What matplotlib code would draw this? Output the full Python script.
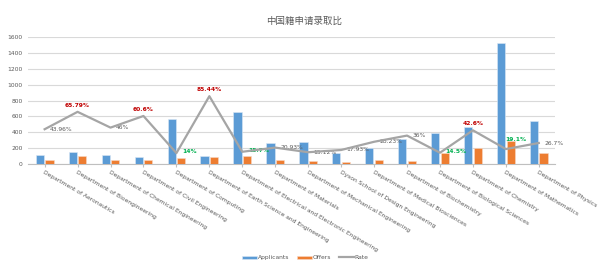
import numpy as np
import matplotlib.pyplot as plt

departments = [
    "Department of Aeronautics",
    "Department of Bioengineering",
    "Department of Chemical Engineering",
    "Department of Civil Engineering",
    "Department of Computing",
    "Department of Earth Science and Engineering",
    "Department of Electrical and Electronic Engineering",
    "Department of Materials",
    "Department of Mechanical Engineering",
    "Dyson School of Design Engineering",
    "Department of Medical Biosciences",
    "Department of Biochemistry",
    "Department of Biological Sciences",
    "Department of Chemistry",
    "Department of Mathematics",
    "Department of Physics",
]
applicants = [116, 152, 113, 94, 565, 103, 650, 272, 285, 145, 202, 323, 396, 468, 1520, 547]
offers = [51, 100, 52, 57, 79, 88, 100, 57, 43, 26, 57, 43, 138, 200, 290, 146]
rate = [43.96, 65.79, 46, 60.6, 14, 85.44, 15.7, 20.93, 15.12, 17.93, 28.23, 36, 14.5, 42.6, 19.1, 26.7]
rate_text = ["43.96%", "65.79%", "46%", "60.6%", "14%", "85.44%", "15.7%", "20.93%",
             "15.12%", "17.93%", "28.23%", "36%", "14.5%", "42.6%", "19.1%", "26.7%"]
high = [1, 3, 5, 13]
low = [4, 6, 12, 14]

BLUE = "#5B9BD5"
ORANGE = "#ED7D31"
GRAY = "#A5A5A5"
TXT = "#595959"


def main():
    fig = plt.figure(figsize=(5.99, 2.72), dpi=100)
    ax = fig.add_axes([0.047, 0.396, 0.88, 0.469])
    x = np.arange(len(departments))
    w = 0.25

    b1 = ax.bar(x - 0.145, applicants, w, color=BLUE, edgecolor="#DCE8F5", linewidth=0.4,
                label="Applicants", zorder=3)
    b2 = ax.bar(x + 0.145, offers, w, color=ORANGE, edgecolor="#F8D9C6", linewidth=0.4,
                label="Offers", zorder=3)

    ax2 = ax.twinx()
    ax2.set_position(ax.get_position())
    l1, = ax2.plot(x, np.array(rate) / 100, color=GRAY, lw=1.6, label="Rate", zorder=4)
    ax2.set_ylim(0, 1.6)
    ax2.axis("off")

    for i, (r, t) in enumerate(zip(rate, rate_text)):
        y = r / 100
        if i in high:
            ax2.annotate(t, (i, y), xytext=(0, 3), textcoords="offset points", ha="center",
                         va="bottom", fontsize=4.3, color="#C00000", fontweight="bold")
        elif i in low:
            if i == 14:
                ax2.annotate(t, (i, y), xytext=(7, 5), textcoords="offset points", ha="center",
                             va="bottom", fontsize=4.3, color="#00B050", fontweight="bold")
            else:
                ax2.annotate(t, (i, y), xytext=(4, 1), textcoords="offset points", ha="left",
                             va="center", fontsize=4.3, color="#00B050", fontweight="bold")
        else:
            ax2.annotate(t, (i, y), xytext=(4, 0), textcoords="offset points", ha="left",
                         va="center", fontsize=4.3, color=TXT)

    ax.set_xlim(-0.5, len(departments) - 0.5)
    ax.set_ylim(0, 1600)
    ax.set_yticks(np.arange(0, 1601, 200))
    ax.yaxis.grid(True, color="#D9D9D9", lw=0.8, zorder=0)
    ax.set_axisbelow(True)
    for s in ["top", "right", "left"]:
        ax.spines[s].set_visible(False)
    ax.spines["bottom"].set_color("#BFBFBF")
    ax.spines["bottom"].set_linewidth(0.8)
    ax.tick_params(axis="y", length=0, labelsize=4.3, labelcolor=TXT, pad=4)
    ax.set_xticks(x)
    ax.set_xticklabels(departments, rotation=-30, ha="left", va="top",
                       rotation_mode="anchor", fontsize=4.3, color=TXT)
    ax.tick_params(axis="x", length=2, color="#BFBFBF", pad=2)

    fig.text(0.507, 0.922, "中国籍申请录取比", ha="center", va="center", fontsize=6.8,
             color=TXT, family=["Noto Sans CJK SC", "DejaVu Sans"])

    fig.legend([b1, b2, l1], ["Applicants", "Offers", "Rate"], loc="center",
               bbox_to_anchor=(0.51, 0.052), ncol=3, frameon=False, fontsize=4.3,
               labelcolor=TXT, handlelength=2.5, handleheight=0.5, columnspacing=1.2,
               handletextpad=0.2)

    fig.savefig("out.png", dpi=100)


if __name__ == "__main__":
    main()
